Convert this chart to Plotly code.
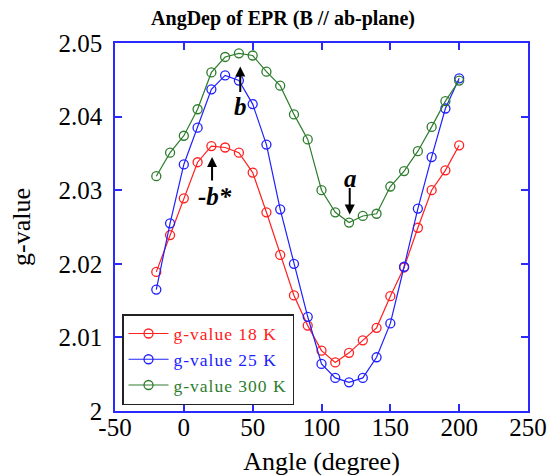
import plotly.graph_objects as go

angles = [-20, -10, 0, 10, 20, 30, 40, 50, 60, 70, 80, 90, 100, 110, 120,
          130, 140, 150, 160, 170, 180, 190, 200]
g_18K = [2.0189, 2.0239, 2.0289, 2.0338, 2.0360, 2.0358, 2.0351, 2.0324, 2.0270,
         2.0212, 2.0157, 2.0116, 2.0082, 2.0066, 2.0079, 2.0096, 2.0113, 2.0156,
         2.0195, 2.0249, 2.0300, 2.0327, 2.0361]
g_25K = [2.0165, 2.0255, 2.0335, 2.0385, 2.0437, 2.0456, 2.0449, 2.0417, 2.0362,
         2.0274, 2.0200, 2.0128, 2.0064, 2.0045, 2.0039, 2.0045, 2.0073, 2.0119,
         2.0196, 2.0275, 2.0345, 2.0411, 2.0452]
g_300K = [2.0319, 2.0351, 2.0374, 2.0410, 2.0460, 2.0481, 2.0486, 2.0483, 2.0461,
          2.0442, 2.0403, 2.0369, 2.0300, 2.0270, 2.0256, 2.0265, 2.0268, 2.0305,
          2.0326, 2.0353, 2.0386, 2.0421, 2.0449]

x_tick_vals = [-50, 0, 50, 100, 150, 200, 250]
x_tick_text = ["-50", "0", "50", "100", "150", "200", "250"]
y_tick_vals = [2.0, 2.01, 2.02, 2.03, 2.04, 2.05]
y_tick_text = ["2", "2.01", "2.02", "2.03", "2.04", "2.05"]

series_names = ["g-value 18 K", "g-value 25 K", "g-value 300 K"]
series_colors = ["#ff2020", "#2020ff", "#2e7d2e"]
series_values = [g_18K, g_25K, g_300K]

FONT = "Times New Roman, Liberation Serif, serif"
AXIS_COLOR = "#2a2aff"

fig = go.Figure()
for name, color, vals in zip(series_names, series_colors, series_values):
    fig.add_trace(go.Scatter(
        x=angles, y=vals, mode="lines+markers",
        name=f'<span style="color:{color};letter-spacing:1px">{name}</span>',
        line=dict(color=color, width=1.2),
        marker=dict(symbol="circle-open", size=9, color=color, line=dict(width=1.3, color=color)),
    ))

ann_font = dict(family=FONT, size=25, color="black")
annotations = [
    dict(x=41, y=2.0468, xref="x", yref="y", text="", showarrow=True,
         ax=0, ay=27, arrowhead=2, arrowsize=1, arrowwidth=2, arrowcolor="black"),
    dict(x=41, y=2.0414, xref="x", yref="y", text="<b><i>b</i></b>", showarrow=False, font=ann_font),
    dict(x=20.5, y=2.0345, xref="x", yref="y", text="", showarrow=True,
         ax=0, ay=25, arrowhead=2, arrowsize=1, arrowwidth=2, arrowcolor="black"),
    dict(x=22.5, y=2.0291, xref="x", yref="y", text="<b><i>-b*</i></b>", showarrow=False, font=ann_font),
    dict(x=120.5, y=2.0267, xref="x", yref="y", text="", showarrow=True,
         ax=0, ay=-28, arrowhead=2, arrowsize=1, arrowwidth=2, arrowcolor="black"),
    dict(x=121, y=2.0316, xref="x", yref="y", text="<b><i>a</i></b>", showarrow=False, font=ann_font),
]

fig.update_layout(
    width=555, height=476,
    margin=dict(l=115, r=27, t=43, b=65, autoexpand=False),
    paper_bgcolor="white", plot_bgcolor="white",
    font=dict(family=FONT, color="black"),
    title=dict(text="<b>AngDep of EPR (B // ab-plane)</b>", x=0.51, xanchor="center",
               y=0.962, yanchor="middle", font=dict(family=FONT, size=20, color="black")),
    showlegend=True,
    legend=dict(x=0.017, y=0.016, xanchor="left", yanchor="bottom",
                bgcolor="white", bordercolor="#222222", borderwidth=1.5,
                font=dict(family=FONT, size=17.5), itemwidth=40,
                tracegroupgap=0),
    annotations=annotations,
)

fig.update_xaxes(
    range=[-50, 250], tickmode="array", tickvals=x_tick_vals, ticktext=x_tick_text,
    showline=True, linecolor=AXIS_COLOR, linewidth=1.5, mirror="ticks",
    ticks="inside", ticklen=7, tickcolor=AXIS_COLOR, tickwidth=1.5,
    showgrid=False, zeroline=False, automargin=False, ticklabelstandoff=-7,
    tickfont=dict(family=FONT, size=25, color="black"),
    title=dict(text="Angle (degree)", font=dict(family=FONT, size=26, color="black"), standoff=18),
)
fig.update_yaxes(
    range=[2.0, 2.05], tickmode="array", tickvals=y_tick_vals, ticktext=y_tick_text,
    showline=True, linecolor=AXIS_COLOR, linewidth=1.5, mirror="ticks",
    ticks="inside", ticklen=7, tickcolor=AXIS_COLOR, tickwidth=1.5,
    showgrid=False, zeroline=False, ticklabelstandoff=6, automargin=False,
    tickfont=dict(family=FONT, size=25, color="black"),
    title=dict(text="g-value", font=dict(family=FONT, size=26, color="black"), standoff=20),
)

fig.write_html("out.html")
